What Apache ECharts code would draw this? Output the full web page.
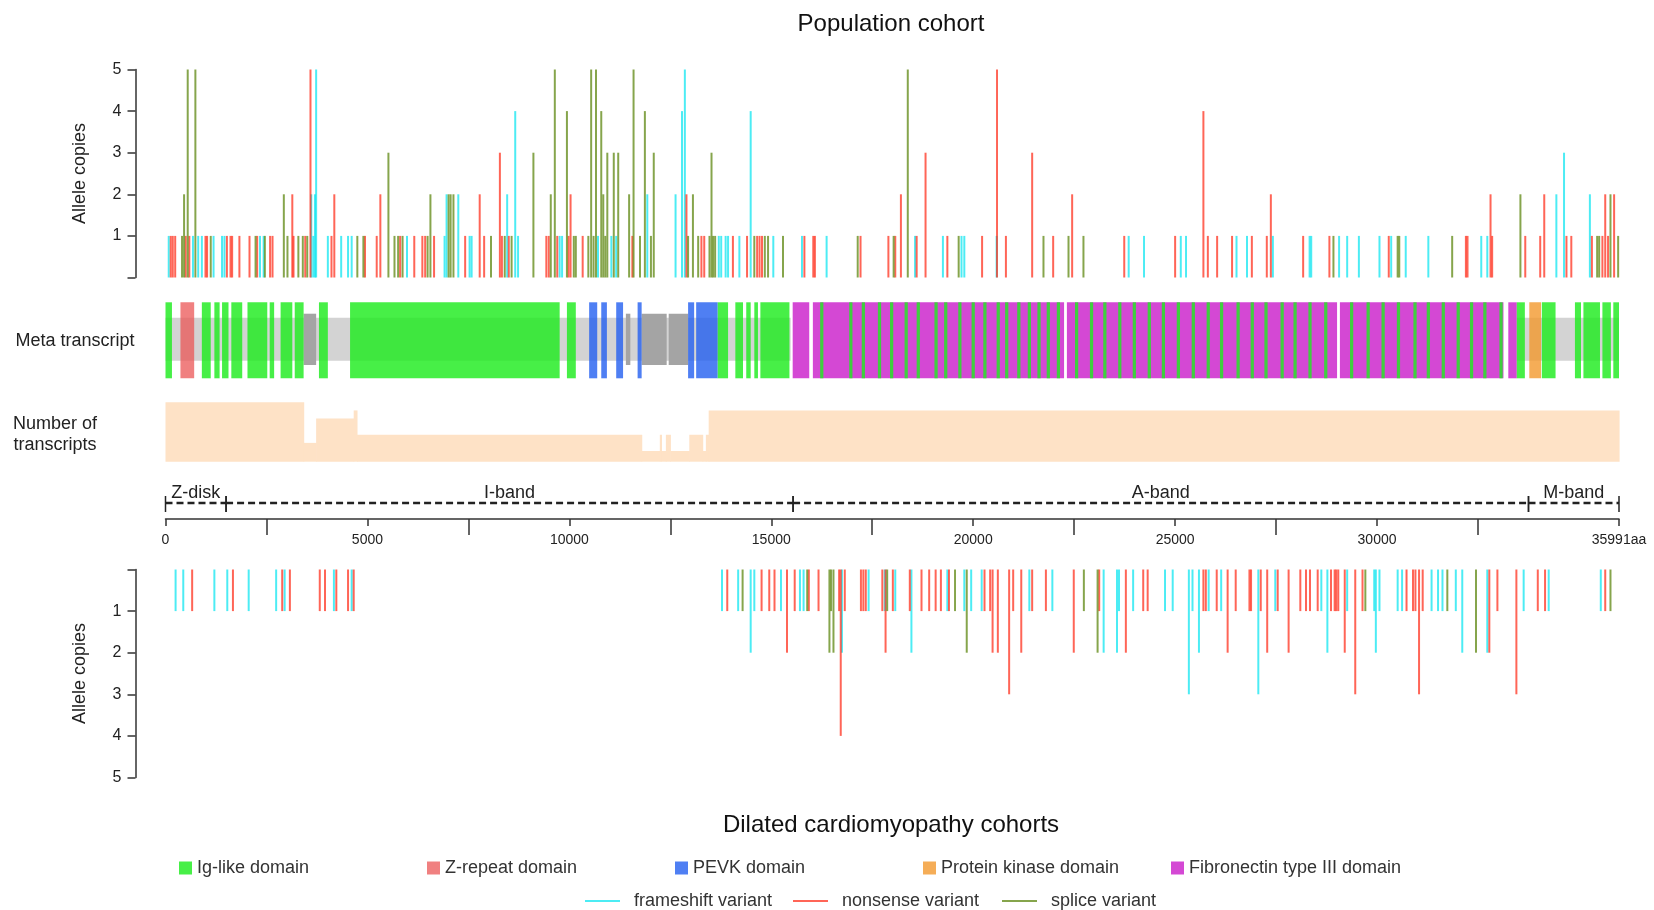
<!DOCTYPE html>
<html>
<head>
<meta charset="utf-8">
<title>Titin truncating variants</title>
<script src="https://cdn.jsdelivr.net/npm/echarts@6/dist/echarts.min.js"></script>
<style>
  html, body { margin: 0; padding: 0; background: #fff; }
  #chart { width: 1654px; height: 910px; }
</style>
</head>
<body>
<div id="chart"></div>
<script>
// ---- data: positions in amino acids, [position, allele copies] ----
const proteinLength = 35991

const popFrameshift = [[80,1],[680,1],[810,1],[900,1],[1190,1],[1400,1],[1460,1],[2340,1],[2430,1],[3610,2],[3660,1],[3700,2],[3730,5],[4020,1],[4350,1],[4520,1],[4610,1],[5980,1],[6910,1],[6960,2],[7250,2],[7530,1],[7580,1],[8460,2],[8660,4],[8730,1],
  [9760,1],[9820,1],[10710,1],[11040,1],[11160,1],[11930,2],[12630,2],[12790,4],[12860,5],[13700,1],[13760,1],[13870,1],[13930,1],[14210,1],[14490,4],[15050,1],[15760,1],[16370,1],[18560,1],[19250,1],[19710,1],[19780,1],[20580,1],
  [23850,1],[24230,1],[25140,1],[25270,1],[26520,1],[26780,1],[27420,1],[28330,1],[28370,1],[29060,1],[29260,1],[29550,1],[30060,1],[30350,1],[30710,1],[31270,1],[32580,1],[32730,1],[34440,2],[34630,3],[35270,2]]

const popNonsense = [[130,1],[180,1],[240,1],[500,1],[590,1],[990,1],[1030,1],[1520,1],[1610,1],[1650,1],[1830,1],[2080,1],[2270,1],[2590,1],[2650,1],[3140,2],[3170,1],[3460,1],[3590,5],[4110,1],[4180,2],[4940,1],[5230,1],[5320,2],[5810,1],[6160,1],[6360,1],[6430,1],[6650,1],[7420,1],[7780,2],[7890,1],[8280,3],[8330,1],[8500,1],[9430,1],[9490,1],[9700,1],
  [9980,1],[10030,2],[10330,1],[11560,1],[12900,2],[13270,1],[13340,1],[14050,1],[14400,1],[14650,1],[14710,1],[14770,1],[15820,1],[16040,1],[16080,1],[17210,1],[17900,1],[18070,1],[18210,2],[18600,1],[18820,3],[19360,1],[20220,1],[20590,5],[20810,1],[21460,3],[21980,1],[22450,2],
  [23740,1],[25000,1],[25700,4],[25810,1],[26040,1],[26410,1],[26900,1],[27270,1],[27370,2],[28170,1],[28820,1],[30290,1],[32200,1],[32240,1],[32810,2],[32850,1],[33670,1],[34040,1],[34140,2],[34690,1],[34810,1],[35320,1],[35580,1],[35650,2],[35720,1],[35870,2]]

const popSplice = [[410,1],[460,2],[550,5],[740,5],[1120,1],[2230,1],[2460,1],[2930,2],[3020,1],[3290,1],[3400,1],[3510,1],[4750,1],[4900,1],[5520,3],[5670,1],[5760,1],[5870,1],[6490,1],[6560,2],[7010,2],[7060,2],[7130,2],[8060,1],[8400,1],[8570,1],[9110,3],[9540,2],[9640,5],
  [9940,4],[10110,1],[10160,1],[10470,1],[10540,5],[10600,1],[10660,5],[10790,4],[10840,2],[10890,1],[10940,3],[11100,3],[11210,3],[11480,2],[11590,5],[11750,1],[11870,4],[12020,1],[12090,3],[12940,1],[13060,2],[13190,1],[13470,1],[13520,3],[13560,1],[13610,1],[14580,1],[14840,1],[14920,1],[15290,1],[17140,1],[18030,1],[18380,5],[19640,1],[21740,1],[22360,1],[22730,1],
  [28920,1],[30510,1],[30550,1],[31860,1],[33550,2],[35450,1],[35500,1],[35780,2],[35970,1]]

const dcmFrameshift = [[250,1],[440,1],[1210,1],[1530,1],[2060,1],[2740,1],[2950,1],[4170,1],[4610,1],
  [13780,1],[14180,1],[14490,2],[14580,1],[15240,1],[15710,1],[15800,1],[16750,2],[17410,1],[17810,1],[18070,1],[18470,2],[19360,1],[19780,1],[19950,1],[20210,1],[21390,1],[21960,1],
  [23230,2],[23560,2],[23610,1],[23960,1],[24750,1],[24940,1],[25340,3],[25430,1],[25590,2],[25830,1],[26140,1],[27060,3],[27480,1],[28620,1],[28770,2],[29260,1],[29930,1],[29970,2],[30060,1],[30510,1],[30620,1],[31350,1],[31510,1],[31620,1],[31950,1],[32110,2],[32730,2],[33630,1],[34250,1],[35540,1]]

const dcmNonsense = [[660,1],[1670,1],[2890,1],[3080,1],[3820,1],[3950,1],[4230,1],[4520,1],[4660,1],
  [13910,1],[14760,1],[14950,1],[15080,1],[15390,2],[15580,1],[15930,1],[16170,1],[16680,1],[16720,4],[16820,1],[17220,1],[17280,1],[17340,1],[17750,1],[17830,2],[18010,1],[18430,1],[18720,1],[18910,1],[19070,1],[19200,1],[19400,1],[20280,1],[20420,1],[20480,2],[20610,2],[20890,3],[20990,1],[21190,2],[21460,1],[21800,1],[22490,2],
  [23120,1],[23780,2],[24210,1],[24320,1],[25700,1],[25760,1],[26030,1],[26300,2],[26500,1],[26840,1],[26880,1],[27120,1],[27280,2],[27540,1],[27810,2],[28100,1],[28240,1],[28340,1],[28530,1],[28860,1],[28950,1],[28990,1],[29040,1],[29200,2],[29460,3],[29640,1],[30730,1],[30890,1],[30950,1],[31040,3],[31130,1],[32780,2],[32980,1],[33450,3],[33980,1],[34160,1],[35650,1]]

const dcmSplice = [[14290,1],[15890,1],[16440,2],[16480,1],[16540,2],[17870,1],[19550,1],[19840,2],[22740,1],[23080,2],
  [29710,1],[31740,1],[32450,2],[35780,1]]

// meta transcript, [start, end] in aa
const igDomains = [[0,160],[900,1120],[1210,1340],[1400,1560],[1630,1900],[2030,2520],[2580,2690],[2850,3140],[3200,3420],[3800,4020],[4570,9760],[9940,10160],[13670,13930],[14110,14300],[14380,14490],[14580,14670],[14730,15450],
  [16210,16290],[16930,17010],[17240,17320],[17640,17720],[17940,18020],[18300,18380],[18600,18680],[19040,19120],[19280,19360],[19630,19710],[19960,20040],[20250,20330],[20580,20660],[20790,20870],[21090,21170],[21350,21430],[21590,21670],[21820,21900],[22070,22150],[22520,22600],[22890,22970],[23220,23300],[23590,23670],[23950,24030],[24320,24400],[24670,24750],[25040,25120],[25410,25490],[25780,25860],[26110,26190],[26520,26600],[26870,26950],[27210,27290],[27610,27690],[27930,28010],[28300,28380],[28690,28770],[29330,29410],[29740,29820],[30110,30190],[30490,30570],[30900,30980],[31230,31310],[31600,31680],[31970,32050],[32300,32380],[32630,32710],[33030,33110],
  [33460,33660],[34080,34420],[34900,35050],[35110,35520],[35580,35790],[35850,35991]]
const zRepeatDomains = [[370,710]]
const pevkDomains = [[10490,10690],[10790,10930],[11160,11330],[11690,11790],[12940,13090],[13140,13670]]
const kinaseDomains = [[33770,34060]]
const fn3Domains = [[15530,15940],[16030,22250],[22320,29010],[29080,33130],[33250,33460]]
const backboneSpans = [[0,15480],[33460,35991]]
const altExonSpans = [[3420,3730],[11400,11510],[11790,12410],[12460,12940]]

// number of transcripts, [start, end, count]
const transcriptSteps = [[0,3420,7],[3420,3730,2],[3730,4660,5],[4660,4740,6],[4740,11790,3],[11790,12240,1],[12240,12280,3],[12280,12390,1],[12390,12500,3],[12500,12970,1],[12970,13300,3],[13300,13380,1],[13380,13450,3],[13450,35991,6]]

// sarcomere regions
const bandNames = ['Z-disk', 'I-band', 'A-band', 'M-band']
const bandBounds = [0, 1500, 15540, 33750, 35991]

// axis ticks
const majorTicks = [0, 5000, 10000, 15000, 20000, 25000, 30000, 35991]
const minorTicks = [2500, 7500, 12500, 17500, 22500, 27500, 32500]

const FONT = "'Liberation Sans', Arial, Helvetica, sans-serif"
const INK = '#222'

const chart = echarts.init(document.getElementById('chart'))

function variantLine(params, api) {
  const p0 = api.coord([api.value(0), 0])
  const p1 = api.coord([api.value(0), api.value(1)])
  return {
    type: 'line',
    shape: { x1: p0[0], y1: p0[1], x2: p1[0], y2: p1[1] },
    style: { stroke: api.visual('color'), lineWidth: 2 }
  }
}

function spanRect(lo, hi) {
  return function (params, api) {
    const a = api.coord([api.value(0), hi])
    const b = api.coord([api.value(1), lo])
    return {
      type: 'rect',
      shape: { x: a[0], y: a[1], width: Math.max(b[0] - a[0], 1), height: b[1] - a[1] },
      style: { fill: api.visual('color') }
    }
  }
}

function stepRect(params, api) {
  const cs = params.coordSys
  const a = api.coord([api.value(0), api.value(2)])
  const b = api.coord([api.value(1), 0])
  return {
    type: 'rect',
    shape: { x: a[0], y: a[1], width: b[0] - a[0] + 0.6, height: cs.y + cs.height - a[1] },
    style: { fill: api.visual('color') }
  }
}

function bandItem(params, api) {
  const cs = params.coordSys
  const base = cs.y + cs.height
  const x0 = api.coord([api.value(0), 0])[0]
  const x1 = api.coord([api.value(1), 0])[0]
  const yl = base - 16
  const tick = { stroke: INK, lineWidth: 1.5 }
  return {
    type: 'group',
    children: [
      { type: 'line', shape: { x1: x0, y1: yl, x2: x1, y2: yl }, style: { stroke: INK, lineWidth: 2.4, lineDash: [7, 4] } },
      { type: 'line', shape: { x1: x0, y1: yl - 7, x2: x0, y2: yl + 9 }, style: tick },
      { type: 'line', shape: { x1: x1, y1: yl - 7, x2: x1, y2: yl + 9 }, style: tick },
      { type: 'text', style: { text: bandNames[params.dataIndex], x: (x0 + x1) / 2, y: base - 26,
          align: 'center', verticalAlign: 'middle', fill: INK, fontSize: 18, fontFamily: FONT } }
    ]
  }
}

const grids = [
  { left: 165.5, right: 35, top: 69.5, height: 208 },
  { left: 165.5, right: 35, top: 302.3, height: 76 },
  { left: 165.5, right: 35, top: 402.3, height: 59.4 },
  { left: 165.5, right: 35, top: 480, height: 39 },
  { left: 165.5, right: 35, top: 569.5, height: 208 }
]

const hiddenX = (i) => ({ type: 'value', gridIndex: i, min: 0, max: proteinLength, show: false })
const hiddenY = (i, min, max) => ({ type: 'value', gridIndex: i, min: min, max: max, show: false })

const copiesAxis = (i, inverse) => ({
  type: 'value', gridIndex: i, min: 0, max: 5, interval: 1, inverse: inverse, offset: 30,
  name: 'Allele copies', nameLocation: 'middle', nameGap: 46,
  nameTextStyle: { fontSize: 18, color: INK, fontFamily: FONT },
  axisLine: { show: true, onZero: false, lineStyle: { color: '#333', width: 1.5 } },
  axisTick: { show: true, length: 8, lineStyle: { color: '#333', width: 1.5 } },
  axisLabel: { fontSize: 16, color: INK, margin: 14, formatter: v => (v === 0 ? '' : v) },
  splitLine: { show: false }
})

const variantSeries = (name, color, data, gi) => ({
  type: 'custom', name: name, xAxisIndex: gi, yAxisIndex: gi,
  itemStyle: { color: color }, renderItem: variantLine, data: data
})

const domainSeries = (name, color, data, lo, hi) => ({
  type: 'custom', name: name, xAxisIndex: 1, yAxisIndex: 1,
  itemStyle: { color: color }, renderItem: spanRect(lo, hi), data: data
})

const COL = {
  ig: 'rgba(30,235,30,0.82)',
  z: 'rgba(235,85,85,0.75)',
  pevk: 'rgba(35,95,240,0.8)',
  kinase: 'rgba(242,152,45,0.8)',
  fn3: 'rgba(200,20,200,0.78)',
  fs: 'rgba(0,228,240,0.7)',
  ns: 'rgba(255,35,15,0.7)',
  sp: 'rgba(100,140,25,0.78)'
}

const legendBase = { padding: 0, selectedMode: false, textStyle: { fontSize: 18, color: '#333', fontFamily: FONT } }
const boxLegend = (name, left) => Object.assign({}, legendBase, {
  data: [{ name: name, icon: 'rect' }], left: left, top: 859, itemWidth: 13, itemHeight: 13
})
const lineLegend = (name, left) => Object.assign({}, legendBase, {
  data: [{ name: name, icon: 'rect' }], left: left, top: 892, itemWidth: 35, itemHeight: 2,
  textStyle: { fontSize: 18, color: '#333', fontFamily: FONT, padding: [0, 0, 0, 9] }
})

chart.setOption({
  animation: false,
  backgroundColor: '#fff',
  textStyle: { fontFamily: FONT },
  grid: grids,
  xAxis: [
    hiddenX(0), hiddenX(1), hiddenX(2),
    {
      type: 'value', gridIndex: 3, min: 0, max: proteinLength, position: 'bottom',
      axisLine: { show: true, onZero: false, lineStyle: { color: '#333', width: 1.5 } },
      axisTick: { show: true, length: 7, customValues: majorTicks, lineStyle: { color: '#333', width: 1.5 } },
      axisLabel: { show: true, customValues: majorTicks, fontSize: 14, color: INK, margin: 14,
        formatter: v => (v === proteinLength ? v + 'aa' : String(v)) },
      splitLine: { show: false }
    },
    hiddenX(4),
    {
      type: 'value', gridIndex: 3, min: 0, max: proteinLength, position: 'bottom',
      axisLine: { show: false, onZero: false },
      axisTick: { show: true, length: 16, customValues: minorTicks, lineStyle: { color: '#333', width: 1.5 } },
      axisLabel: { show: false },
      splitLine: { show: false }
    }
  ],
  yAxis: [
    copiesAxis(0, false),
    hiddenY(1, 0, 1),
    hiddenY(2, -0.32, 7),
    hiddenY(3, 0, 1),
    copiesAxis(4, true)
  ],
  legend: [
    boxLegend('Ig-like domain', 179),
    boxLegend('Z-repeat domain', 427),
    boxLegend('PEVK domain', 675),
    boxLegend('Protein kinase domain', 923),
    boxLegend('Fibronectin type III domain', 1171),
    lineLegend('frameshift variant', 585),
    lineLegend('nonsense variant', 793),
    lineLegend('splice variant', 1002)
  ],
  graphic: [
    { type: 'text', x: 891, y: 24, style: { text: 'Population cohort', fontSize: 24, fontFamily: FONT, fill: '#111', align: 'center', verticalAlign: 'middle' } },
    { type: 'text', x: 891, y: 825, style: { text: 'Dilated cardiomyopathy cohorts', fontSize: 24, fontFamily: FONT, fill: '#111', align: 'center', verticalAlign: 'middle' } },
    { type: 'text', x: 75, y: 341, style: { text: 'Meta transcript', fontSize: 18, fontFamily: FONT, fill: INK, align: 'center', verticalAlign: 'middle' } },
    { type: 'text', x: 55, y: 435, style: { text: 'Number of\ntranscripts', fontSize: 18, lineHeight: 21, fontFamily: FONT, fill: INK, align: 'center', verticalAlign: 'middle' } }
  ],
  series: [
    domainSeries('backbone', '#d3d3d3', backboneSpans, 0.232, 0.797),
    domainSeries('alternative exons', '#a4a4a4', altExonSpans, 0.175, 0.85),
    domainSeries('Fibronectin type III domain', COL.fn3, fn3Domains, 0, 1),
    domainSeries('Ig-like domain', COL.ig, igDomains, 0, 1),
    domainSeries('Z-repeat domain', COL.z, zRepeatDomains, 0, 1),
    domainSeries('PEVK domain', COL.pevk, pevkDomains, 0, 1),
    domainSeries('Protein kinase domain', COL.kinase, kinaseDomains, 0, 1),
    {
      type: 'custom', name: 'Number of transcripts', xAxisIndex: 2, yAxisIndex: 2,
      itemStyle: { color: '#fee2c6' }, renderItem: stepRect, data: transcriptSteps
    },
    {
      type: 'custom', name: 'regions', xAxisIndex: 3, yAxisIndex: 3,
      renderItem: bandItem,
      data: bandNames.map((n, i) => [bandBounds[i], bandBounds[i + 1]])
    },
    variantSeries('frameshift variant', COL.fs, popFrameshift, 0),
    variantSeries('nonsense variant', COL.ns, popNonsense, 0),
    variantSeries('splice variant', COL.sp, popSplice, 0),
    variantSeries('frameshift variant', COL.fs, dcmFrameshift, 4),
    variantSeries('nonsense variant', COL.ns, dcmNonsense, 4),
    variantSeries('splice variant', COL.sp, dcmSplice, 4)
  ]
})
</script>
</body>
</html>
